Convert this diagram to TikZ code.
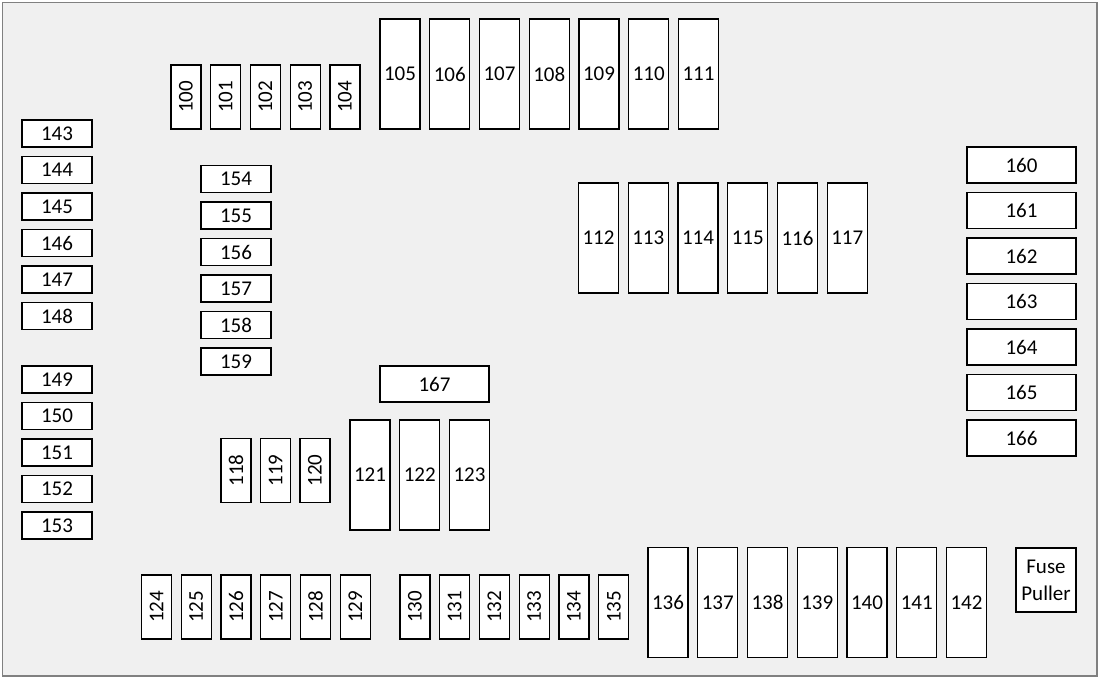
\documentclass[tikz,border=0pt]{standalone}
\usepackage{fontspec}
\setmainfont{Carlito}
\definecolor{bgc}{HTML}{F0F0F0}
\definecolor{brd}{HTML}{808080}
\newcommand{\fusefont}{\fontsize{21}{25}\selectfont}
\tikzset{
  fuse/.style={draw=black, fill=white, line width=1.2pt, inner sep=0pt, outer sep=0pt, font=\fusefont},
  sv/.style={fuse, minimum width=30pt, minimum height=64pt},
  lv/.style={fuse, minimum width=40pt, minimum height=110pt},
  sh/.style={fuse, minimum width=70pt, minimum height=27pt},
  lh/.style={fuse, minimum width=109pt, minimum height=36pt}
}
\begin{document}
\begin{tikzpicture}[x=1pt,y=-1pt]
\useasboundingbox (0,0) rectangle (1100,679);
\fill[white] (0,0) rectangle (1100,679);
\draw[draw=brd, fill=bgc, line width=1.5pt] (2.5,2.5) rectangle (1097,676);
% top small vertical
\foreach \n [count=\i from 0] in {100,101,102,103,104}
  \node[sv] (f\n) at ({186+39.75*\i},97) {\rotatebox{90}{\n}};
% top large
\foreach \n [count=\i from 0] in {105,106,107,108,109,110,111}
  \node[lv] (f\n) at ({400+49.75*\i},74) {\n};
% middle large
\foreach \n [count=\i from 0] in {112,113,114,115,116,117}
  \node[lv] (f\n) at ({598.5+49.75*\i},238) {\n};
% left column
\foreach \n [count=\i from 0] in {143,144,145,146,147,148}
  \node[sh] (f\n) at (57,{133.5+36.5*\i}) {\n};
\foreach \n [count=\i from 0] in {149,150,151,152,153}
  \node[sh] (f\n) at (57,{379.5+36.5*\i}) {\n};
% 154-159
\foreach \n [count=\i from 0] in {154,155,156,157,158,159}
  \node[sh] (f\n) at (236,{179+36.5*\i}) {\n};
% 118-120
\foreach \n [count=\i from 0] in {118,119,120}
  \node[sv] (f\n) at ({236+39.5*\i},470.5) {\rotatebox{90}{\n}};
% 167
\node[lh] (f167) at (434.5,384) {167};
% 121-123
\foreach \n [count=\i from 0] in {121,122,123}
  \node[lv] (f\n) at ({370+49.75*\i},475) {\n};
% bottom small vertical
\foreach \n [count=\i from 0] in {124,125,126,127,128,129}
  \node[sv] (f\n) at ({156.5+39.75*\i},607) {\rotatebox{90}{\n}};
\foreach \n [count=\i from 0] in {130,131,132,133,134,135}
  \node[sv] (f\n) at ({415+39.75*\i},607) {\rotatebox{90}{\n}};
% bottom large
\foreach \n [count=\i from 0] in {136,137,138,139,140,141,142}
  \node[lv] (f\n) at ({668+49.75*\i},602.5) {\n};
% fuse puller
\node[fuse, minimum width=60pt, minimum height=64pt, align=center, font=\fontsize{21}{27}\selectfont] (puller) at (1046,580) {Fuse\\Puller};
% right column
\foreach \n [count=\i from 0] in {160,161,162,163,164,165,166}
  \node[lh] (f\n) at (1021.5,{165+45.5*\i}) {\n};
\end{tikzpicture}
\end{document}
